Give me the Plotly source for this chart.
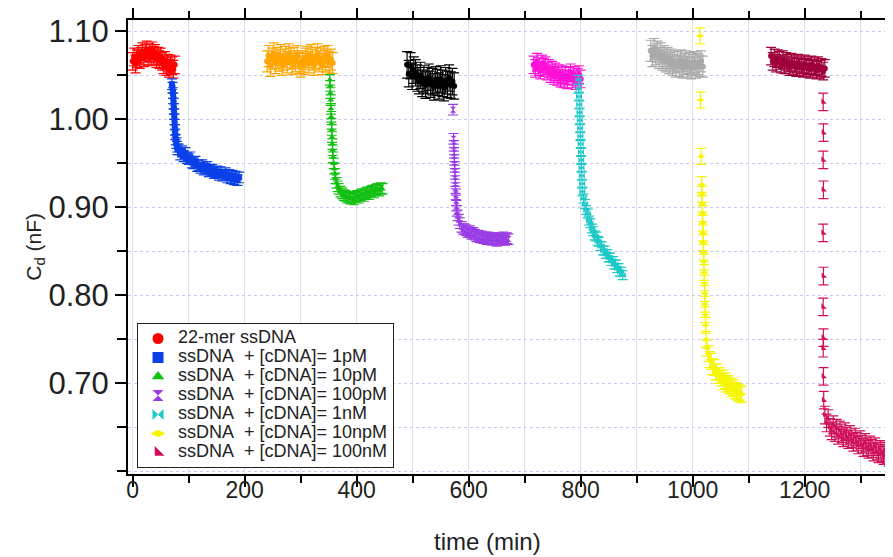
import numpy as np
import plotly.graph_objects as go

# ---------------- data (time in min, Cd in nF) ----------------
# 22-mer ssDNA baseline (red)
red_t0, red_dt = 0.0, 2.5
red_v = [1.066, 1.071, 1.063, 1.069, 1.074, 1.068, 1.072, 1.077, 1.070, 1.075, 1.079,
         1.072, 1.076, 1.071, 1.078, 1.073, 1.075, 1.069, 1.072, 1.068, 1.071, 1.066,
         1.062, 1.067, 1.060, 1.064, 1.058, 1.063, 1.061, 1.057, 1.062]

# 1 pM (blue)
blue_drop_t = [70, 71, 72, 72.5, 73, 73.5, 74, 74.5, 75, 75.5, 76, 77, 78, 79, 80]
blue_drop_v = [1.040, 1.036, 1.030, 1.024, 1.018, 1.012, 1.006, 1.000, 0.994, 0.988,
               0.983, 0.977, 0.973, 0.969, 0.966]
blue_t0, blue_dt = 82.0, 3.0
blue_v = [0.966, 0.960, 0.964, 0.958, 0.962, 0.956, 0.955, 0.957, 0.951, 0.950, 0.952,
          0.947, 0.948, 0.945, 0.948, 0.943, 0.944, 0.946, 0.941, 0.942, 0.943, 0.939,
          0.940, 0.941, 0.937, 0.940, 0.936, 0.937, 0.939, 0.934, 0.937, 0.933, 0.936,
          0.932, 0.935, 0.931, 0.934]

# baseline before 10 pM (orange)
orange_t0, orange_dt = 240.0, 3.0
orange_v = [1.066, 1.072, 1.061, 1.069, 1.075, 1.064, 1.070, 1.067, 1.073, 1.062, 1.068,
            1.071, 1.065, 1.074, 1.069, 1.063, 1.070, 1.066, 1.072, 1.064, 1.060, 1.066,
            1.063, 1.069, 1.071, 1.065, 1.073, 1.068, 1.062, 1.070, 1.074, 1.066, 1.069,
            1.063, 1.071, 1.067, 1.072, 1.065, 1.068, 1.064]

# 10 pM (green)
green_drop_t = [352, 352.5, 353, 353.5, 354, 354.5, 355, 355.5, 356, 356.5, 357, 358,
                359, 360, 361, 362, 364, 366]
green_drop_v = [1.045, 1.038, 1.030, 1.022, 1.012, 1.003, 0.995, 0.988, 0.980, 0.972,
                0.965, 0.957, 0.950, 0.944, 0.938, 0.933, 0.928, 0.924]
green_t0, green_dt = 368.0, 3.0
green_v = [0.921, 0.918, 0.916, 0.914, 0.913, 0.911, 0.912, 0.910, 0.911, 0.909, 0.912,
           0.913, 0.911, 0.914, 0.915, 0.913, 0.916, 0.917, 0.915, 0.918, 0.919, 0.917,
           0.920, 0.921, 0.919, 0.922, 0.921]

# baseline before 100 pM (black)
black_t0, black_dt = 490.0, 3.0
black_v = [1.062, 1.052, 1.061, 1.049, 1.056, 1.053, 1.047, 1.044, 1.050, 1.041, 1.046,
           1.039, 1.044, 1.048, 1.040, 1.043, 1.037, 1.045, 1.042, 1.038, 1.046, 1.041,
           1.036, 1.044, 1.040, 1.047, 1.039, 1.043, 1.038]

# 100 pM (purple)
purple_drop_t = [572, 573, 573.5, 574, 574.5, 575, 575.5, 576, 576.5, 577, 577.5, 578,
                 579, 580, 582, 584, 587, 590]
purple_drop_v = [1.011, 0.978, 0.970, 0.962, 0.954, 0.946, 0.938, 0.930, 0.922, 0.915,
                 0.908, 0.902, 0.896, 0.891, 0.886, 0.882, 0.878, 0.876]
purple_t0, purple_dt = 593.0, 3.0
purple_v = [0.875, 0.874, 0.872, 0.873, 0.870, 0.871, 0.869, 0.867, 0.868, 0.866, 0.867,
            0.865, 0.866, 0.864, 0.866, 0.865, 0.863, 0.865, 0.864, 0.862, 0.865, 0.863,
            0.864, 0.866, 0.863, 0.865, 0.864]

# baseline before 1 nM (magenta)
magenta_t0, magenta_dt = 716.0, 3.0
magenta_v = [1.062, 1.058, 1.065, 1.060, 1.056, 1.063, 1.059, 1.061, 1.055, 1.058, 1.052,
             1.056, 1.050, 1.054, 1.049, 1.052, 1.047, 1.051, 1.046, 1.050, 1.045, 1.049,
             1.053, 1.046, 1.050, 1.044, 1.048, 1.051, 1.046]

# 1 nM (cyan)
cyan_drop_t = [796, 796.5, 797, 797.5, 798, 798.5, 799, 799.5, 800, 800.5, 801, 801.5,
               802, 802.5, 803]
cyan_drop_v = [1.045, 1.035, 1.026, 1.017, 1.008, 0.999, 0.990, 0.981, 0.972, 0.963,
               0.954, 0.945, 0.936, 0.927, 0.918]
cyan_t0, cyan_dt = 805.0, 2.5
cyan_v = [0.910, 0.904, 0.897, 0.893, 0.885, 0.882, 0.876, 0.873, 0.868, 0.867, 0.862,
          0.861, 0.856, 0.856, 0.851, 0.851, 0.847, 0.847, 0.843, 0.843, 0.839, 0.839,
          0.835, 0.835, 0.831, 0.831, 0.827, 0.827, 0.823]

# baseline before 10 nM (gray)
gray_t0, gray_dt = 925.0, 3.0
gray_v = [1.078, 1.072, 1.080, 1.074, 1.077, 1.070, 1.075, 1.068, 1.072, 1.066, 1.070,
          1.064, 1.068, 1.062, 1.066, 1.060, 1.065, 1.061, 1.067, 1.059, 1.063, 1.066,
          1.060, 1.064, 1.058, 1.062, 1.065, 1.059, 1.063, 1.061, 1.066, 1.060]

# 10 nM (yellow)
yellow_drop_t = [1013, 1014, 1015, 1016, 1016.5, 1017, 1017.5, 1018, 1018.5, 1019,
                 1019.5, 1020, 1020.5, 1021, 1021.5, 1022, 1022.5, 1023, 1024]
yellow_drop_v = [1.095, 1.022, 0.958, 0.926, 0.915, 0.904, 0.893, 0.882, 0.871, 0.860,
                 0.849, 0.838, 0.826, 0.814, 0.802, 0.790, 0.778, 0.766, 0.750]
yellow_t0, yellow_dt = 1025.5, 2.5
yellow_v = [0.740, 0.734, 0.727, 0.725, 0.719, 0.718, 0.713, 0.713, 0.709, 0.709, 0.706,
            0.706, 0.702, 0.703, 0.699, 0.700, 0.697, 0.697, 0.694, 0.695, 0.691, 0.692,
            0.689, 0.690, 0.687, 0.688]

# baseline before 100 nM (maroon)
maroon_t0, maroon_dt = 1140.0, 3.0
maroon_v = [1.072, 1.066, 1.070, 1.064, 1.069, 1.067, 1.063, 1.068, 1.062, 1.066, 1.064,
            1.060, 1.065, 1.061, 1.063, 1.059, 1.064, 1.060, 1.062, 1.058, 1.063, 1.059,
            1.061, 1.057, 1.062, 1.058, 1.060, 1.056, 1.061, 1.057, 1.059, 1.055, 1.058]

# 100 nM (crimson)
crimson_drop_t = [1233, 1233.5, 1233, 1233.5, 1233, 1233.5, 1233, 1233.5, 1233, 1233.5, 1234]
crimson_drop_v = [1.020, 0.985, 0.954, 0.920, 0.871, 0.822, 0.787, 0.752, 0.740, 0.708,
                  0.681]
crimson_t0, crimson_dt = 1236.0, 3.0
crimson_v = [0.664, 0.655, 0.660, 0.650, 0.646, 0.653, 0.644, 0.649, 0.641, 0.647, 0.643,
             0.638, 0.645, 0.640, 0.636, 0.642, 0.637, 0.633, 0.639, 0.634, 0.630, 0.636,
             0.631, 0.627, 0.633, 0.628, 0.625, 0.630, 0.626, 0.622, 0.628, 0.623, 0.620,
             0.625, 0.621, 0.618, 0.623, 0.619, 0.616, 0.620, 0.617]

# error-bar half-widths per series (nF)
series_names = ["red", "blue", "orange", "green", "black", "purple", "magenta", "cyan",
                "gray", "yellow", "maroon", "crimson"]
series_err = [0.010, 0.006, 0.012, 0.006, 0.015, 0.006, 0.010, 0.005, 0.012, 0.009,
              0.010, 0.010]

legend_labels = ["22-mer ssDNA",
                 "ssDNA\u00a0 + [cDNA]= 1pM",
                 "ssDNA\u00a0 + [cDNA]= 10pM",
                 "ssDNA\u00a0 + [cDNA]= 100pM",
                 "ssDNA\u00a0 + [cDNA]= 1nM",
                 "ssDNA\u00a0 + [cDNA]= 10npM",
                 "ssDNA\u00a0 + [cDNA]= 100nM"]

x_ticks = [0, 200, 400, 600, 800, 1000, 1200]
y_ticks = [0.70, 0.80, 0.90, 1.00, 1.10]

# ---------------- styles ----------------
colors = {"red": "#ff0000", "blue": "#0b40e8", "orange": "#ffa500", "green": "#12c012",
          "black": "#000000", "purple": "#9a3ce6", "magenta": "#ff10d8",
          "cyan": "#1cc8c8", "gray": "#a9a9a9", "yellow": "#f5f500",
          "maroon": "#a0003a", "crimson": "#cf1058"}
symbols = {"red": "circle", "blue": "square", "orange": "circle", "green": "triangle-up",
           "black": "circle", "purple": "hourglass", "magenta": "circle",
           "cyan": "bowtie", "gray": "circle", "yellow": "diamond-wide",
           "maroon": "circle", "crimson": "triangle-sw"}
legend_series = ["red", "blue", "green", "purple", "cyan", "yellow", "crimson"]

FONT = "Liberation Sans, Arial, sans-serif"
X_RANGE = [-8.4, 1357.7]


def seq(t0, dt, vals):
    return [t0 + dt * i for i in range(len(vals))]


series = {
    "red": (seq(red_t0, red_dt, red_v), red_v),
    "blue": (blue_drop_t + seq(blue_t0, blue_dt, blue_v), blue_drop_v + blue_v),
    "orange": (seq(orange_t0, orange_dt, orange_v), orange_v),
    "green": (green_drop_t + seq(green_t0, green_dt, green_v), green_drop_v + green_v),
    "black": (seq(black_t0, black_dt, black_v), black_v),
    "purple": (purple_drop_t + seq(purple_t0, purple_dt, purple_v), purple_drop_v + purple_v),
    "magenta": (seq(magenta_t0, magenta_dt, magenta_v), magenta_v),
    "cyan": (cyan_drop_t + seq(cyan_t0, cyan_dt, cyan_v), cyan_drop_v + cyan_v),
    "gray": (seq(gray_t0, gray_dt, gray_v), gray_v),
    "yellow": (yellow_drop_t + seq(yellow_t0, yellow_dt, yellow_v), yellow_drop_v + yellow_v),
    "maroon": (seq(maroon_t0, maroon_dt, maroon_v), maroon_v),
    "crimson": (crimson_drop_t + seq(crimson_t0, crimson_dt, crimson_v), crimson_drop_v + crimson_v),
}

fig = go.Figure()
for name, err in zip(series_names, series_err):
    xs, ys = series[name]
    fig.add_trace(go.Scatter(
        x=xs, y=ys, mode="markers", showlegend=False, hoverinfo="x+y",
        marker=dict(symbol=symbols[name], size=6, color=colors[name], line=dict(width=0)),
        error_y=dict(type="constant", value=err, color=colors[name], thickness=1.2, width=5),
    ))

for name, label in zip(legend_series, legend_labels):
    fig.add_trace(go.Scatter(
        x=[None], y=[None], mode="markers",
        name='<span style="font-size:18px">%s</span>' % label,
        marker=dict(symbol=symbols[name], size=11, color=colors[name], line=dict(width=0)),
    ))

# carrier trace for the tick-label axis
fig.add_trace(go.Scatter(x=[None], y=[None], xaxis="x2", showlegend=False, hoverinfo="skip"))

fig.update_layout(
    width=885, height=549,
    margin=dict(l=120, r=0, t=12, b=83),
    paper_bgcolor="white", plot_bgcolor="white",
    font=dict(family=FONT, color="#222222"),
    showlegend=True,
    legend=dict(x=0.0118, y=0.0132, xanchor="left", yanchor="bottom",
                bgcolor="white", bordercolor="#222222", borderwidth=1,
                font=dict(size=12, color="#222222", family=FONT), itemsizing="trace",
                tracegroupgap=0),
    xaxis=dict(range=X_RANGE, tickmode="array", tickvals=x_ticks, showticklabels=False,
               ticks="outside", ticklen=11, tickwidth=2, tickcolor="black",
               showline=True, linewidth=2, linecolor="black", mirror="ticks",
               showgrid=True, gridcolor="#e1e1ee", gridwidth=1,
               minor=dict(dtick=100, tick0=0, ticks="outside", ticklen=7, tickwidth=2,
                          tickcolor="black", showgrid=True, gridcolor="#e1e1ee", gridwidth=1),
               zeroline=False),
    xaxis2=dict(range=X_RANGE, overlaying="x", anchor="y", side="bottom",
                tickmode="array", tickvals=x_ticks, ticks="", showline=False,
                showgrid=False, zeroline=False,
                tickfont=dict(family=FONT, size=23, color="#222222")),
    yaxis=dict(range=[0.597, 1.113], tickmode="array", tickvals=y_ticks,
               ticktext=["%.2f" % v for v in y_ticks],
               ticks="outside", ticklen=11, tickwidth=2, tickcolor="black",
               showline=True, linewidth=2, linecolor="black", mirror=False,
               showgrid=True, gridcolor="#c9c9ec", gridwidth=1, griddash="dot",
               tickfont=dict(size=31, color="#222222", family=FONT),
               minor=dict(dtick=0.05, tick0=0.6, ticks="outside", ticklen=9, tickwidth=2,
                          tickcolor="black", showgrid=True, gridcolor="#c9c9ec",
                          griddash="dot", gridwidth=1),
               zeroline=False),
)

fig.add_annotation(text="time (min)", xref="paper", yref="paper", x=0.47, y=-0.148,
                   showarrow=False, xanchor="center", yanchor="middle",
                   font=dict(family=FONT, size=24, color="#222222"))
fig.add_annotation(text="C<sub>d</sub> (nF)", xref="paper", yref="paper", x=-0.122, y=0.5,
                   showarrow=False, textangle=-90, xanchor="center", yanchor="middle",
                   font=dict(size=21, color="#222222", family=FONT))

fig.write_html("out.html")
